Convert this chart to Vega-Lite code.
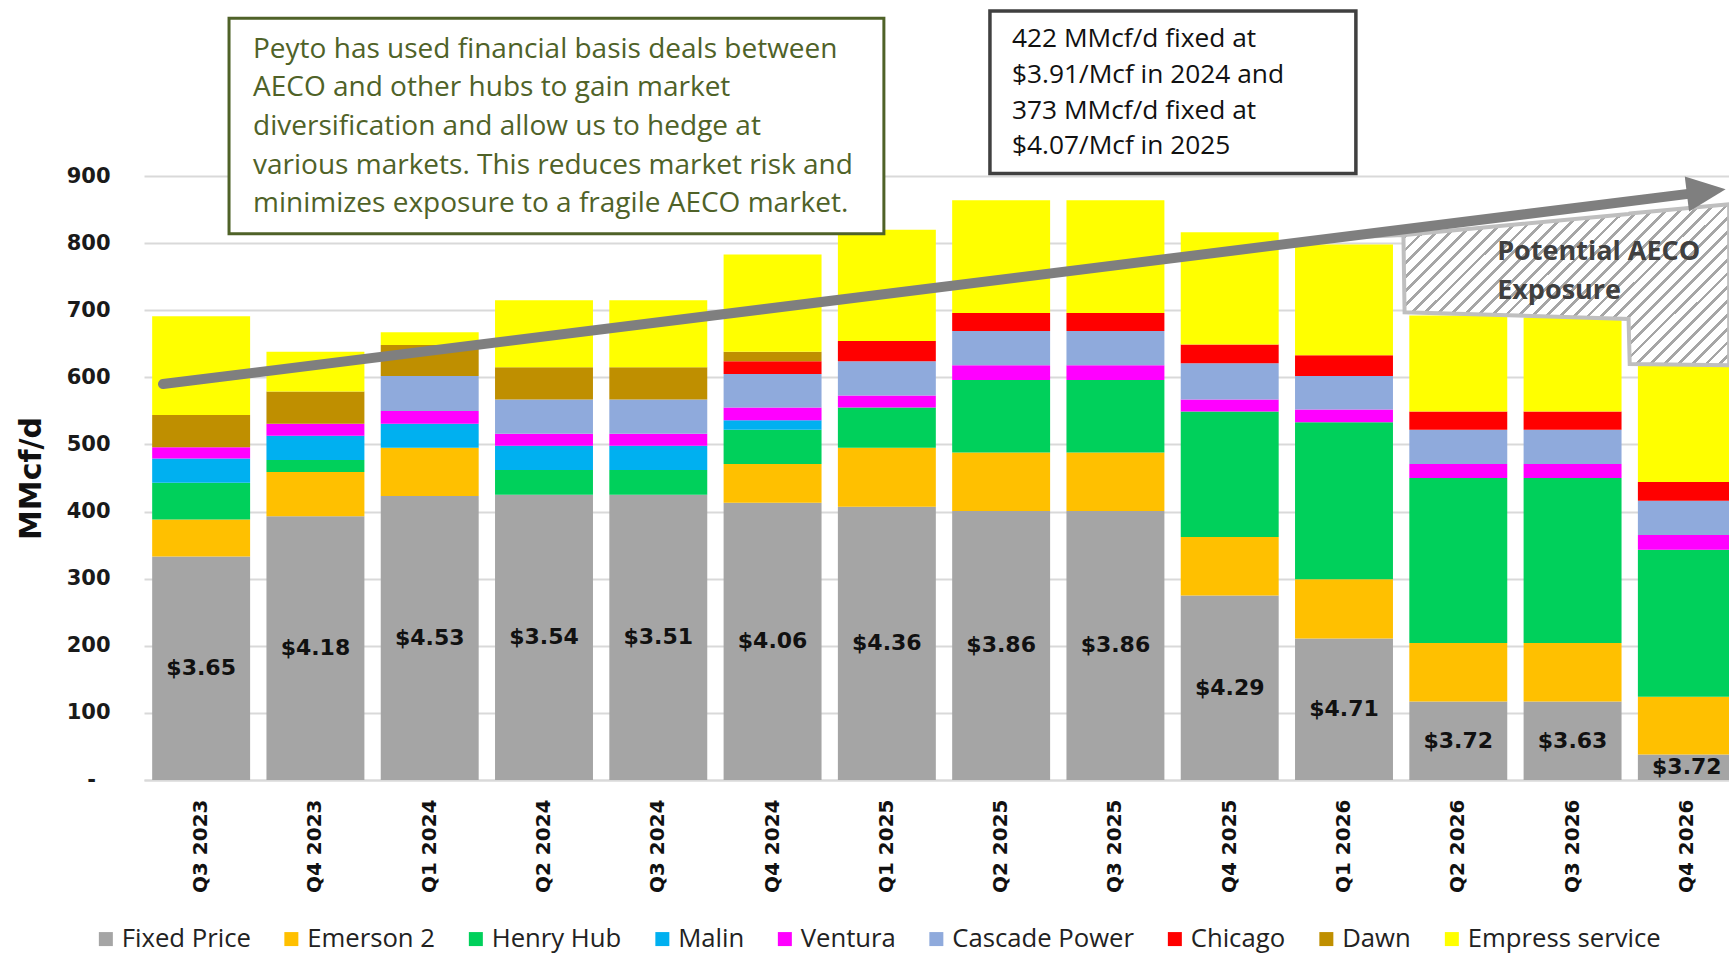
{
  "$schema": "https://vega.github.io/schema/vega-lite/v6.json",
  "width": 1585,
  "height": 604,
  "autosize": {"type": "none"},
  "padding": {"left": 144, "top": 176, "right": 0, "bottom": 174},
  "background": "white",
  "config": {"view": {"stroke": null}},
  "datasets": {
    "bars": [
      {"q": "Q3 2023", "hub": "Fixed Price", "v": 333}, {"q": "Q3 2023", "hub": "Emerson 2", "v": 55}, {"q": "Q3 2023", "hub": "Henry Hub", "v": 55}, {"q": "Q3 2023", "hub": "Malin", "v": 36}, {"q": "Q3 2023", "hub": "Ventura", "v": 17}, {"q": "Q3 2023", "hub": "Dawn", "v": 48}, {"q": "Q3 2023", "hub": "Empress service", "v": 147},
      {"q": "Q4 2023", "hub": "Fixed Price", "v": 393}, {"q": "Q4 2023", "hub": "Emerson 2", "v": 66}, {"q": "Q4 2023", "hub": "Henry Hub", "v": 18}, {"q": "Q4 2023", "hub": "Malin", "v": 36}, {"q": "Q4 2023", "hub": "Ventura", "v": 18}, {"q": "Q4 2023", "hub": "Dawn", "v": 48}, {"q": "Q4 2023", "hub": "Empress service", "v": 59},
      {"q": "Q1 2024", "hub": "Fixed Price", "v": 423}, {"q": "Q1 2024", "hub": "Emerson 2", "v": 72}, {"q": "Q1 2024", "hub": "Malin", "v": 36}, {"q": "Q1 2024", "hub": "Ventura", "v": 19}, {"q": "Q1 2024", "hub": "Cascade Power", "v": 52}, {"q": "Q1 2024", "hub": "Dawn", "v": 46}, {"q": "Q1 2024", "hub": "Empress service", "v": 19},
      {"q": "Q2 2024", "hub": "Fixed Price", "v": 425}, {"q": "Q2 2024", "hub": "Henry Hub", "v": 37}, {"q": "Q2 2024", "hub": "Malin", "v": 36}, {"q": "Q2 2024", "hub": "Ventura", "v": 18}, {"q": "Q2 2024", "hub": "Cascade Power", "v": 51}, {"q": "Q2 2024", "hub": "Dawn", "v": 48}, {"q": "Q2 2024", "hub": "Empress service", "v": 100},
      {"q": "Q3 2024", "hub": "Fixed Price", "v": 425}, {"q": "Q3 2024", "hub": "Henry Hub", "v": 37}, {"q": "Q3 2024", "hub": "Malin", "v": 36}, {"q": "Q3 2024", "hub": "Ventura", "v": 18}, {"q": "Q3 2024", "hub": "Cascade Power", "v": 51}, {"q": "Q3 2024", "hub": "Dawn", "v": 48}, {"q": "Q3 2024", "hub": "Empress service", "v": 100},
      {"q": "Q4 2024", "hub": "Fixed Price", "v": 413}, {"q": "Q4 2024", "hub": "Emerson 2", "v": 58}, {"q": "Q4 2024", "hub": "Henry Hub", "v": 51}, {"q": "Q4 2024", "hub": "Malin", "v": 14}, {"q": "Q4 2024", "hub": "Ventura", "v": 19}, {"q": "Q4 2024", "hub": "Cascade Power", "v": 50}, {"q": "Q4 2024", "hub": "Chicago", "v": 19}, {"q": "Q4 2024", "hub": "Dawn", "v": 14}, {"q": "Q4 2024", "hub": "Empress service", "v": 145},
      {"q": "Q1 2025", "hub": "Fixed Price", "v": 407}, {"q": "Q1 2025", "hub": "Emerson 2", "v": 88}, {"q": "Q1 2025", "hub": "Henry Hub", "v": 60}, {"q": "Q1 2025", "hub": "Ventura", "v": 18}, {"q": "Q1 2025", "hub": "Cascade Power", "v": 51}, {"q": "Q1 2025", "hub": "Chicago", "v": 30}, {"q": "Q1 2025", "hub": "Empress service", "v": 166},
      {"q": "Q2 2025", "hub": "Fixed Price", "v": 401}, {"q": "Q2 2025", "hub": "Emerson 2", "v": 87}, {"q": "Q2 2025", "hub": "Henry Hub", "v": 108}, {"q": "Q2 2025", "hub": "Ventura", "v": 22}, {"q": "Q2 2025", "hub": "Cascade Power", "v": 51}, {"q": "Q2 2025", "hub": "Chicago", "v": 27}, {"q": "Q2 2025", "hub": "Empress service", "v": 168},
      {"q": "Q3 2025", "hub": "Fixed Price", "v": 401}, {"q": "Q3 2025", "hub": "Emerson 2", "v": 87}, {"q": "Q3 2025", "hub": "Henry Hub", "v": 108}, {"q": "Q3 2025", "hub": "Ventura", "v": 22}, {"q": "Q3 2025", "hub": "Cascade Power", "v": 51}, {"q": "Q3 2025", "hub": "Chicago", "v": 27}, {"q": "Q3 2025", "hub": "Empress service", "v": 168},
      {"q": "Q4 2025", "hub": "Fixed Price", "v": 275}, {"q": "Q4 2025", "hub": "Emerson 2", "v": 87}, {"q": "Q4 2025", "hub": "Henry Hub", "v": 187}, {"q": "Q4 2025", "hub": "Ventura", "v": 18}, {"q": "Q4 2025", "hub": "Cascade Power", "v": 54}, {"q": "Q4 2025", "hub": "Chicago", "v": 28}, {"q": "Q4 2025", "hub": "Empress service", "v": 167},
      {"q": "Q1 2026", "hub": "Fixed Price", "v": 211}, {"q": "Q1 2026", "hub": "Emerson 2", "v": 88}, {"q": "Q1 2026", "hub": "Henry Hub", "v": 234}, {"q": "Q1 2026", "hub": "Ventura", "v": 19}, {"q": "Q1 2026", "hub": "Cascade Power", "v": 50}, {"q": "Q1 2026", "hub": "Chicago", "v": 31}, {"q": "Q1 2026", "hub": "Empress service", "v": 165},
      {"q": "Q2 2026", "hub": "Fixed Price", "v": 117}, {"q": "Q2 2026", "hub": "Emerson 2", "v": 87}, {"q": "Q2 2026", "hub": "Henry Hub", "v": 246}, {"q": "Q2 2026", "hub": "Ventura", "v": 21}, {"q": "Q2 2026", "hub": "Cascade Power", "v": 51}, {"q": "Q2 2026", "hub": "Chicago", "v": 27}, {"q": "Q2 2026", "hub": "Empress service", "v": 143},
      {"q": "Q3 2026", "hub": "Fixed Price", "v": 117}, {"q": "Q3 2026", "hub": "Emerson 2", "v": 87}, {"q": "Q3 2026", "hub": "Henry Hub", "v": 246}, {"q": "Q3 2026", "hub": "Ventura", "v": 21}, {"q": "Q3 2026", "hub": "Cascade Power", "v": 51}, {"q": "Q3 2026", "hub": "Chicago", "v": 27}, {"q": "Q3 2026", "hub": "Empress service", "v": 140},
      {"q": "Q4 2026", "hub": "Fixed Price", "v": 38}, {"q": "Q4 2026", "hub": "Emerson 2", "v": 86}, {"q": "Q4 2026", "hub": "Henry Hub", "v": 219}, {"q": "Q4 2026", "hub": "Ventura", "v": 22}, {"q": "Q4 2026", "hub": "Cascade Power", "v": 51}, {"q": "Q4 2026", "hub": "Chicago", "v": 28}, {"q": "Q4 2026", "hub": "Empress service", "v": 174}
    ],
    "prices": [
      {"q": "Q3 2023", "fixed": 333, "price": "$3.65"}, {"q": "Q4 2023", "fixed": 393, "price": "$4.18"}, {"q": "Q1 2024", "fixed": 423, "price": "$4.53"}, {"q": "Q2 2024", "fixed": 425, "price": "$3.54"}, {"q": "Q3 2024", "fixed": 425, "price": "$3.51"}, {"q": "Q4 2024", "fixed": 413, "price": "$4.06"}, {"q": "Q1 2025", "fixed": 407, "price": "$4.36"}, {"q": "Q2 2025", "fixed": 401, "price": "$3.86"}, {"q": "Q3 2025", "fixed": 401, "price": "$3.86"}, {"q": "Q4 2025", "fixed": 275, "price": "$4.29"}, {"q": "Q1 2026", "fixed": 211, "price": "$4.71"}, {"q": "Q2 2026", "fixed": 117, "price": "$3.72"}, {"q": "Q3 2026", "fixed": 117, "price": "$3.63"}, {"q": "Q4 2026", "fixed": 38, "price": "$3.72"}
    ],
    "hatch": [
      {"s": 10.45, "top": 808, "bot": 808},
      {"s": 11.02, "top": 812, "bot": 812},
      {"s": 11.03, "top": 812, "bot": 697},
      {"s": 12.99, "top": 843.5, "bot": 687},
      {"s": 13.0, "top": 844, "bot": 620},
      {"s": 13.87, "top": 858, "bot": 618}
    ],
    "arrow": [{"s": 0.166, "v": 590}, {"s": 13.67, "v": 876.7}],
    "head": [{"s": 13.67, "v": 876.7}]
  },
  "resolve": {"scale": {"x": "independent", "y": "independent"}},
  "layer": [
    {
      "data": {"name": "bars"},
      "transform": [{"window": [{"op": "row_number", "as": "rn"}]}],
      "mark": {"type": "bar"},
      "encoding": {
        "x": {
          "field": "q", "type": "nominal",
          "sort": ["Q3 2023", "Q4 2023", "Q1 2024", "Q2 2024", "Q3 2024", "Q4 2024", "Q1 2025", "Q2 2025", "Q3 2025", "Q4 2025", "Q1 2026", "Q2 2026", "Q3 2026", "Q4 2026"],
          "scale": {"paddingInner": 0.143, "paddingOuter": 0.0715, "range": [0, 1600]},
          "axis": {"title": null, "labelAngle": -90, "labelFont": "DejaVu Sans", "labelFontWeight": "bold", "labelFontSize": 20, "labelColor": "#111111", "labelPadding": 19, "ticks": false, "domainColor": "#d9d9d9", "domainWidth": 2, "grid": false}
        },
        "y": {
          "field": "v", "type": "quantitative", "stack": "zero",
          "scale": {"domain": [0, 900], "nice": false},
          "axis": {"title": "MMcf/d", "values": [0, 100, 200, 300, 400, 500, 600, 700, 800, 900], "grid": true, "gridColor": "#d9d9d9", "gridWidth": 2, "domain": false, "ticks": false, "labelFont": "DejaVu Sans", "labelFontWeight": "bold", "labelFontSize": 21, "labelColor": "#1a1a1a", "labelPadding": 34, "labelExpr": "datum.value === 0 ? '-\u00a0\u00a0\u200b' : datum.label", "titleFont": "DejaVu Sans", "titleFontWeight": "bold", "titleFontSize": 30, "titleColor": "#111111", "titleX": -113, "titleY": 302, "titleAngle": -90, "titleAlign": "center", "titleBaseline": "middle"}
        },
        "color": {
          "field": "hub", "type": "nominal",
          "scale": {
            "domain": ["Fixed Price", "Emerson 2", "Henry Hub", "Malin", "Ventura", "Cascade Power", "Chicago", "Dawn", "Empress service"],
            "range": ["#a5a5a5", "#ffc000", "#00d05b", "#00b0f0", "#ff00ff", "#8faadc", "#ff0000", "#bf8f00", "#ffff00"]
          },
          "legend": {"title": null, "orient": "none", "legendX": -51, "legendY": 750, "direction": "horizontal", "columns": 9, "symbolType": "square", "symbolSize": 196, "symbolStrokeWidth": 0, "labelFont": "Open Sans", "labelFontSize": 25.7, "labelColor": "#222222", "labelOffset": 3, "columnPadding": 27.5, "labelLimit": 400}
        },
        "order": {"field": "rn", "type": "quantitative"}
      }
    },
    {
      "data": {"name": "prices"},
      "mark": {"type": "text", "font": "DejaVu Sans", "fontWeight": "bold", "fontSize": 22, "color": "#111111", "baseline": "middle"},
      "encoding": {
        "x": {
          "field": "q", "type": "nominal",
          "sort": ["Q3 2023", "Q4 2023", "Q1 2024", "Q2 2024", "Q3 2024", "Q4 2024", "Q1 2025", "Q2 2025", "Q3 2025", "Q4 2025", "Q1 2026", "Q2 2026", "Q3 2026", "Q4 2026"],
          "scale": {"paddingInner": 0.143, "paddingOuter": 0.0715, "range": [0, 1600]},
          "axis": null
        },
        "y": {"field": "fixed", "type": "quantitative", "scale": {"domain": [0, 1800], "nice": false}, "axis": null},
        "text": {"field": "price"}
      }
    },
    {
      "data": {"name": "hatch"},
      "mark": {
        "type": "area", "interpolate": "linear", "stroke": "#bfbfbf", "strokeWidth": 4, "strokeJoin": "miter",
        "fill": {
          "gradient": "linear", "x1": 0, "y1": 0, "x2": 1.21, "y2": 0.5,
          "stops": [
            {"offset": 0, "color": "#a6a6a6"}, {"offset": 0.007, "color": "#a6a6a6"}, {"offset": 0.007, "color": "#ffffff"}, {"offset": 0.025, "color": "#ffffff"},
            {"offset": 0.025, "color": "#a6a6a6"}, {"offset": 0.032, "color": "#a6a6a6"}, {"offset": 0.032, "color": "#ffffff"}, {"offset": 0.05, "color": "#ffffff"},
            {"offset": 0.05, "color": "#a6a6a6"}, {"offset": 0.057, "color": "#a6a6a6"}, {"offset": 0.057, "color": "#ffffff"}, {"offset": 0.075, "color": "#ffffff"},
            {"offset": 0.075, "color": "#a6a6a6"}, {"offset": 0.082, "color": "#a6a6a6"}, {"offset": 0.082, "color": "#ffffff"}, {"offset": 0.1, "color": "#ffffff"},
            {"offset": 0.1, "color": "#a6a6a6"}, {"offset": 0.107, "color": "#a6a6a6"}, {"offset": 0.107, "color": "#ffffff"}, {"offset": 0.125, "color": "#ffffff"},
            {"offset": 0.125, "color": "#a6a6a6"}, {"offset": 0.132, "color": "#a6a6a6"}, {"offset": 0.132, "color": "#ffffff"}, {"offset": 0.15, "color": "#ffffff"},
            {"offset": 0.15, "color": "#a6a6a6"}, {"offset": 0.157, "color": "#a6a6a6"}, {"offset": 0.157, "color": "#ffffff"}, {"offset": 0.175, "color": "#ffffff"},
            {"offset": 0.175, "color": "#a6a6a6"}, {"offset": 0.182, "color": "#a6a6a6"}, {"offset": 0.182, "color": "#ffffff"}, {"offset": 0.2, "color": "#ffffff"},
            {"offset": 0.2, "color": "#a6a6a6"}, {"offset": 0.207, "color": "#a6a6a6"}, {"offset": 0.207, "color": "#ffffff"}, {"offset": 0.225, "color": "#ffffff"},
            {"offset": 0.225, "color": "#a6a6a6"}, {"offset": 0.232, "color": "#a6a6a6"}, {"offset": 0.232, "color": "#ffffff"}, {"offset": 0.25, "color": "#ffffff"},
            {"offset": 0.25, "color": "#a6a6a6"}, {"offset": 0.257, "color": "#a6a6a6"}, {"offset": 0.257, "color": "#ffffff"}, {"offset": 0.275, "color": "#ffffff"},
            {"offset": 0.275, "color": "#a6a6a6"}, {"offset": 0.282, "color": "#a6a6a6"}, {"offset": 0.282, "color": "#ffffff"}, {"offset": 0.3, "color": "#ffffff"},
            {"offset": 0.3, "color": "#a6a6a6"}, {"offset": 0.307, "color": "#a6a6a6"}, {"offset": 0.307, "color": "#ffffff"}, {"offset": 0.325, "color": "#ffffff"},
            {"offset": 0.325, "color": "#a6a6a6"}, {"offset": 0.332, "color": "#a6a6a6"}, {"offset": 0.332, "color": "#ffffff"}, {"offset": 0.35, "color": "#ffffff"},
            {"offset": 0.35, "color": "#a6a6a6"}, {"offset": 0.357, "color": "#a6a6a6"}, {"offset": 0.357, "color": "#ffffff"}, {"offset": 0.375, "color": "#ffffff"},
            {"offset": 0.375, "color": "#a6a6a6"}, {"offset": 0.382, "color": "#a6a6a6"}, {"offset": 0.382, "color": "#ffffff"}, {"offset": 0.4, "color": "#ffffff"},
            {"offset": 0.4, "color": "#a6a6a6"}, {"offset": 0.407, "color": "#a6a6a6"}, {"offset": 0.407, "color": "#ffffff"}, {"offset": 0.425, "color": "#ffffff"},
            {"offset": 0.425, "color": "#a6a6a6"}, {"offset": 0.432, "color": "#a6a6a6"}, {"offset": 0.432, "color": "#ffffff"}, {"offset": 0.45, "color": "#ffffff"},
            {"offset": 0.45, "color": "#a6a6a6"}, {"offset": 0.457, "color": "#a6a6a6"}, {"offset": 0.457, "color": "#ffffff"}, {"offset": 0.475, "color": "#ffffff"},
            {"offset": 0.475, "color": "#a6a6a6"}, {"offset": 0.482, "color": "#a6a6a6"}, {"offset": 0.482, "color": "#ffffff"}, {"offset": 0.5, "color": "#ffffff"},
            {"offset": 0.5, "color": "#a6a6a6"}, {"offset": 0.507, "color": "#a6a6a6"}, {"offset": 0.507, "color": "#ffffff"}, {"offset": 0.525, "color": "#ffffff"},
            {"offset": 0.525, "color": "#a6a6a6"}, {"offset": 0.532, "color": "#a6a6a6"}, {"offset": 0.532, "color": "#ffffff"}, {"offset": 0.55, "color": "#ffffff"},
            {"offset": 0.55, "color": "#a6a6a6"}, {"offset": 0.557, "color": "#a6a6a6"}, {"offset": 0.557, "color": "#ffffff"}, {"offset": 0.575, "color": "#ffffff"},
            {"offset": 0.575, "color": "#a6a6a6"}, {"offset": 0.582, "color": "#a6a6a6"}, {"offset": 0.582, "color": "#ffffff"}, {"offset": 0.6, "color": "#ffffff"},
            {"offset": 0.6, "color": "#a6a6a6"}, {"offset": 0.607, "color": "#a6a6a6"}, {"offset": 0.607, "color": "#ffffff"}, {"offset": 0.625, "color": "#ffffff"},
            {"offset": 0.625, "color": "#a6a6a6"}, {"offset": 0.632, "color": "#a6a6a6"}, {"offset": 0.632, "color": "#ffffff"}, {"offset": 0.65, "color": "#ffffff"},
            {"offset": 0.65, "color": "#a6a6a6"}, {"offset": 0.657, "color": "#a6a6a6"}, {"offset": 0.657, "color": "#ffffff"}, {"offset": 0.675, "color": "#ffffff"},
            {"offset": 0.675, "color": "#a6a6a6"}, {"offset": 0.682, "color": "#a6a6a6"}, {"offset": 0.682, "color": "#ffffff"}, {"offset": 0.7, "color": "#ffffff"},
            {"offset": 0.7, "color": "#a6a6a6"}, {"offset": 0.707, "color": "#a6a6a6"}, {"offset": 0.707, "color": "#ffffff"}, {"offset": 0.725, "color": "#ffffff"},
            {"offset": 0.725, "color": "#a6a6a6"}, {"offset": 0.732, "color": "#a6a6a6"}, {"offset": 0.732, "color": "#ffffff"}, {"offset": 0.75, "color": "#ffffff"},
            {"offset": 0.75, "color": "#a6a6a6"}, {"offset": 0.757, "color": "#a6a6a6"}, {"offset": 0.757, "color": "#ffffff"}, {"offset": 0.775, "color": "#ffffff"},
            {"offset": 0.775, "color": "#a6a6a6"}, {"offset": 0.782, "color": "#a6a6a6"}, {"offset": 0.782, "color": "#ffffff"}, {"offset": 0.8, "color": "#ffffff"},
            {"offset": 0.8, "color": "#a6a6a6"}, {"offset": 0.807, "color": "#a6a6a6"}, {"offset": 0.807, "color": "#ffffff"}, {"offset": 0.825, "color": "#ffffff"},
            {"offset": 0.825, "color": "#a6a6a6"}, {"offset": 0.832, "color": "#a6a6a6"}, {"offset": 0.832, "color": "#ffffff"}, {"offset": 0.85, "color": "#ffffff"},
            {"offset": 0.85, "color": "#a6a6a6"}, {"offset": 0.857, "color": "#a6a6a6"}, {"offset": 0.857, "color": "#ffffff"}, {"offset": 0.875, "color": "#ffffff"},
            {"offset": 0.875, "color": "#a6a6a6"}, {"offset": 0.882, "color": "#a6a6a6"}, {"offset": 0.882, "color": "#ffffff"}, {"offset": 0.9, "color": "#ffffff"},
            {"offset": 0.9, "color": "#a6a6a6"}, {"offset": 0.907, "color": "#a6a6a6"}, {"offset": 0.907, "color": "#ffffff"}, {"offset": 0.925, "color": "#ffffff"},
            {"offset": 0.925, "color": "#a6a6a6"}, {"offset": 0.932, "color": "#a6a6a6"}, {"offset": 0.932, "color": "#ffffff"}, {"offset": 0.95, "color": "#ffffff"},
            {"offset": 0.95, "color": "#a6a6a6"}, {"offset": 0.957, "color": "#a6a6a6"}, {"offset": 0.957, "color": "#ffffff"}, {"offset": 0.975, "color": "#ffffff"},
            {"offset": 0.975, "color": "#a6a6a6"}, {"offset": 0.982, "color": "#a6a6a6"}, {"offset": 0.982, "color": "#ffffff"}, {"offset": 1, "color": "#ffffff"}
          ]
        }
      },
      "encoding": {
        "x": {"field": "s", "type": "quantitative", "scale": {"domain": [0, 14], "range": [0, 1600], "nice": false, "zero": false}, "axis": null},
        "y": {"field": "top", "type": "quantitative", "scale": {"domain": [0, 900], "nice": false}, "axis": null},
        "y2": {"field": "bot"}
      }
    },
    {
      "data": {"name": "arrow"},
      "mark": {"type": "line", "color": "#7f7f7f", "strokeWidth": 10, "strokeCap": "round"},
      "encoding": {
        "x": {"field": "s", "type": "quantitative", "scale": {"domain": [0, 14], "range": [0, 1600], "nice": false, "zero": false}, "axis": null},
        "y": {"field": "v", "type": "quantitative", "scale": {"domain": [0, 900], "nice": false}, "axis": null}
      }
    },
    {
      "data": {"name": "head"},
      "mark": {"type": "point", "shape": "M1,0L-1,-0.9L-1,0.9Z", "size": 1521, "filled": true, "color": "#7f7f7f", "opacity": 1, "angle": -7, "strokeWidth": 0},
      "encoding": {
        "x": {"field": "s", "type": "quantitative", "scale": {"domain": [0, 14], "range": [0, 1600], "nice": false, "zero": false}, "axis": null},
        "y": {"field": "v", "type": "quantitative", "scale": {"domain": [0, 900], "nice": false}, "axis": null}
      }
    },
    {
      "data": {"values": [{}]},
      "mark": {"type": "text", "text": ["Potential AECO", "Exposure"], "font": "Open Sans", "fontWeight": "bold", "fontSize": 27, "color": "#404040", "align": "left", "baseline": "alphabetic", "lineHeight": 38.7},
      "encoding": {
        "x": {"datum": 11.84, "type": "quantitative", "scale": {"domain": [0, 14], "range": [0, 1600], "nice": false, "zero": false}, "axis": null},
        "y": {"datum": 775, "type": "quantitative", "scale": {"domain": [0, 900], "nice": false}, "axis": null}
      }
    },
    {
      "data": {"values": [{}]},
      "mark": {"type": "rect", "fill": "#ffffff", "stroke": "#4f6228", "strokeWidth": 3},
      "encoding": {
        "x": {"datum": 0.744, "type": "quantitative", "scale": {"domain": [0, 14], "range": [0, 1600], "nice": false, "zero": false}, "axis": null},
        "x2": {"datum": 6.474},
        "y": {"datum": 1135, "type": "quantitative", "scale": {"domain": [0, 900], "nice": false}, "axis": null},
        "y2": {"datum": 814}
      }
    },
    {
      "data": {"values": [{}]},
      "mark": {"type": "text", "text": ["Peyto has used financial basis deals between", "AECO and other hubs to gain market", "diversification and allow us to hedge at", "various markets. This reduces market risk and", "minimizes exposure to a fragile AECO market."], "font": "Open Sans", "fontSize": 28, "color": "#4f6228", "align": "left", "baseline": "alphabetic", "lineHeight": 38.6},
      "encoding": {
        "x": {"datum": 0.954, "type": "quantitative", "scale": {"domain": [0, 14], "range": [0, 1600], "nice": false, "zero": false}, "axis": null},
        "y": {"datum": 1076, "type": "quantitative", "scale": {"domain": [0, 900], "nice": false}, "axis": null}
      }
    },
    {
      "data": {"values": [{}]},
      "mark": {"type": "rect", "fill": "#ffffff", "stroke": "#404040", "strokeWidth": 3.5},
      "encoding": {
        "x": {"datum": 7.402, "type": "quantitative", "scale": {"domain": [0, 14], "range": [0, 1600], "nice": false, "zero": false}, "axis": null},
        "x2": {"datum": 10.604},
        "y": {"datum": 1146, "type": "quantitative", "scale": {"domain": [0, 900], "nice": false}, "axis": null},
        "y2": {"datum": 903.6}
      }
    },
    {
      "data": {"values": [{}]},
      "mark": {"type": "text", "text": ["422 MMcf/d fixed at", "$3.91/Mcf in 2024 and", "373 MMcf/d fixed at", "$4.07/Mcf in 2025"], "font": "Open Sans", "fontSize": 26.3, "color": "#111111", "align": "left", "baseline": "alphabetic", "lineHeight": 35.7},
      "encoding": {
        "x": {"datum": 7.595, "type": "quantitative", "scale": {"domain": [0, 14], "range": [0, 1600], "nice": false, "zero": false}, "axis": null},
        "y": {"datum": 1092, "type": "quantitative", "scale": {"domain": [0, 900], "nice": false}, "axis": null}
      }
    }
  ]
}
